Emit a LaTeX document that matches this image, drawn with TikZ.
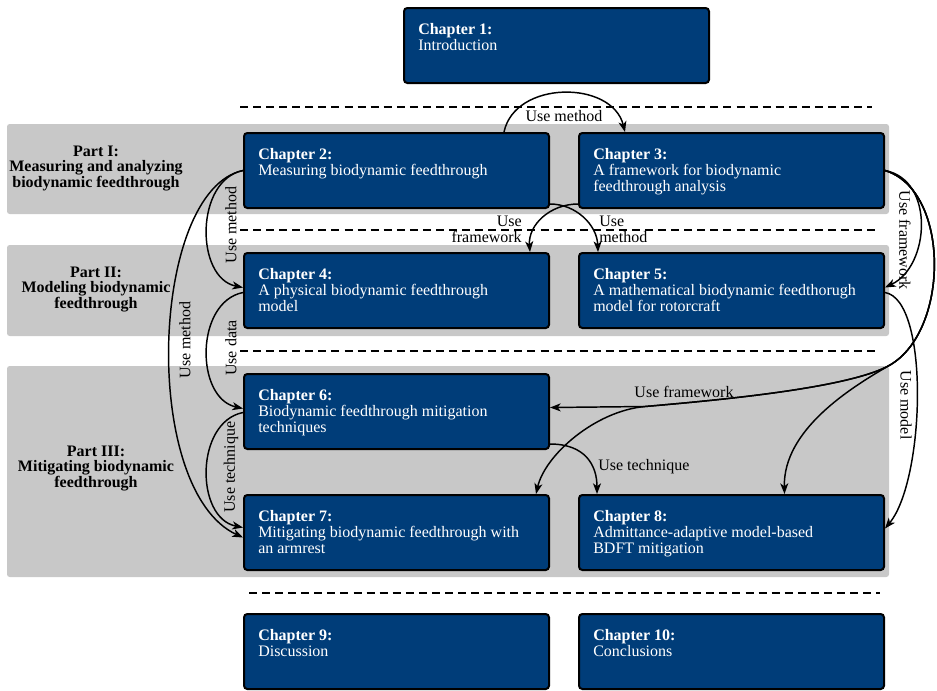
\documentclass[tikz,border=0pt]{standalone}
\usepackage{fontspec}
\setmainfont{Liberation Serif}
\usetikzlibrary{arrows.meta,calc}
\definecolor{chapblue}{RGB}{0,61,121}
\definecolor{partgray}{RGB}{200,200,200}

% chapter box: filled frame plus its title/description text
\newcommand{\chapnode}[4]{%
  \node[chapbox] (#1) at (#2) {};
  \node[chaptext] (#1-t) at ($(#1.north west)+(15,16)$) {\textbf{#3}\\#4};
}

\begin{document}
\begin{tikzpicture}[x=0.75pt,y=-0.75pt,
  chapbox/.style={draw=black, line width=1.5pt, fill=chapblue,
    rounded corners=2.5pt, anchor=north west, inner sep=0pt,
    minimum width=228.75pt, minimum height=56.25pt},
  chaptext/.style={anchor=north west, inner sep=0pt, align=left,
    text=white, font=\fontsize{12}{12}\selectfont},
  parttext/.style={align=center, inner sep=0pt,
    font=\fontsize{12}{11.6}\selectfont\bfseries},
  lbl/.style={inner sep=0pt, font=\fontsize{12}{12}\selectfont},
  sepline/.style={line width=1.5pt, dash pattern=on 6pt off 3.8pt},
  band/.style={fill=partgray, rounded corners=2pt},
  conn/.style={line width=1.1pt, -{Stealth[length=8pt,width=6pt,inset=2.2pt]}}]

\useasboundingbox (0,0) rectangle (937,690);

% part bands
\path[band] (7,124) rectangle (889,214);
\path[band] (7,245) rectangle (889,336);
\path[band] (7,366) rectangle (889,577);

% separators
\draw[sepline] (240,107) -- (872,107);
\draw[sepline] (240,230) -- (876,230);
\draw[sepline] (240,351) -- (877,351);
\draw[sepline] (249,593) -- (880,593);

% part titles
\node[parttext] (p1) at (96,168.5) {Part I:\\Measuring and analyzing\\biodynamic feedthrough};
\node[parttext] (p2) at (96,289.5) {Part II:\\Modeling biodynamic\\feedthrough};
\node[parttext] (p3) at (96,468.5) {Part III:\\Mitigating biodynamic\\feedthrough};

% chapters
\chapnode{c1}{403,7}{Chapter 1:}{Introduction}
\chapnode{c2}{243,132}{Chapter 2:}{Measuring biodynamic feedthrough}
\chapnode{c3}{578,132}{Chapter 3:}{A framework for biodynamic\\feedthrough analysis}
\chapnode{c4}{243,252}{Chapter 4:}{A physical biodynamic feedthrough\\model}
\chapnode{c5}{578,252}{Chapter 5:}{A mathematical biodynamic feedthorugh\\model for rotorcraft}
\chapnode{c6}{243,373}{Chapter 6:}{Biodynamic feedthrough mitigation\\techniques}
\chapnode{c7}{243,494}{Chapter 7:}{Mitigating biodynamic feedthrough with\\an armrest}
\chapnode{c8}{578,494}{Chapter 8:}{Admittance-adaptive model-based\\BDFT mitigation}
\chapnode{c9}{243,613}{Chapter 9:}{Discussion}
\chapnode{c10}{578,613}{Chapter 10:}{Conclusions}

% Chapter 2 -> Chapter 3
\draw[conn] ($(c2.north east)+(-46,0)$) .. controls (515,80) and (612,80) .. ($(c3.north west)+(47,0)$);
\node[lbl] (l23) at (564,116) {Use method};

% crossing arrows between the first two rows
\draw[conn] ($(c2.south east)+(0,-5)$) .. controls (576,204) and (597,225) .. ($(c5.north west)+(20,0)$);
\draw[conn] ($(c3.south west)+(0,-5)$) .. controls (550,204) and (528,225) .. ($(c4.north east)+(-20,0)$);
\node[lbl, anchor=west, align=left] (l25) at (599,229) {Use\\method};
\node[lbl, anchor=east, align=right] (l34) at (522,229) {Use\\framework};

% left-hand connections
\draw[conn] (c2.west) .. controls (195,180) and (195,278) .. ($(c4.west)+(0,-3)$);
\node[lbl, rotate=90] (l24) at (231,225) {Use method};
\draw[conn] (c2.west) .. controls (150,190) and (140,490) .. ($(c7.west)+(0,5)$);
\node[lbl, rotate=90] (l27) at (185,340) {Use method};
\draw[conn] ($(c4.west)+(0,2)$) .. controls (195,302) and (195,398) .. ($(c6.west)+(0,-3)$);
\node[lbl, rotate=90] (l46) at (231,348) {Use data};
\draw[conn] ($(c6.west)+(0,1)$) .. controls (195,422) and (195,518) .. ($(c7.west)+(0,-5)$);
\node[lbl, rotate=90] (l67) at (231,467) {Use technique};

% right-hand connections
\draw[conn] (c3.east) .. controls (935,180) and (930,266) .. ($(c5.east)+(0,-3)$);
\node[lbl, rotate=-90] (l35) at (905,240) {Use framework};
\draw[conn] ($(c5.east)+(0,2)$) .. controls (930,300) and (925,480) .. ($(c8.east)+(0,-4)$);
\node[lbl, rotate=-90] (l58) at (906,405) {Use model};

% Chapter 3 -> Chapters 6, 7 and 8
\draw[conn] (c3.east) .. controls (950,190) and (950,330) .. (890,365)
  .. controls (850,388) and (720,400) .. (645,406.5) -- ($(c6.east)+(0,-4)$);
\draw[conn] (c3.east) .. controls (950,190) and (950,330) .. (890,365)
  .. controls (850,388) and (720,400) .. (645,406.5)
  .. controls (595,411) and (545,455) .. ($(c7.north east)+(-14,0)$);
\draw[conn] (c3.east) .. controls (950,190) and (950,330) .. (890,365)
  .. controls (850,388) and (783,430) .. ($(c8.north)+(53,0)$);
\node[lbl] (l36) at (684,392) {Use framework};

% Chapter 6 -> Chapter 8
\draw[conn] ($(c6.south east)+(0,-6)$) .. controls (585,444) and (597,465) .. ($(c8.north west)+(19,0)$);
\node[lbl, anchor=west] (l68) at (598,467) {Use technique};

\end{tikzpicture}
\end{document}
